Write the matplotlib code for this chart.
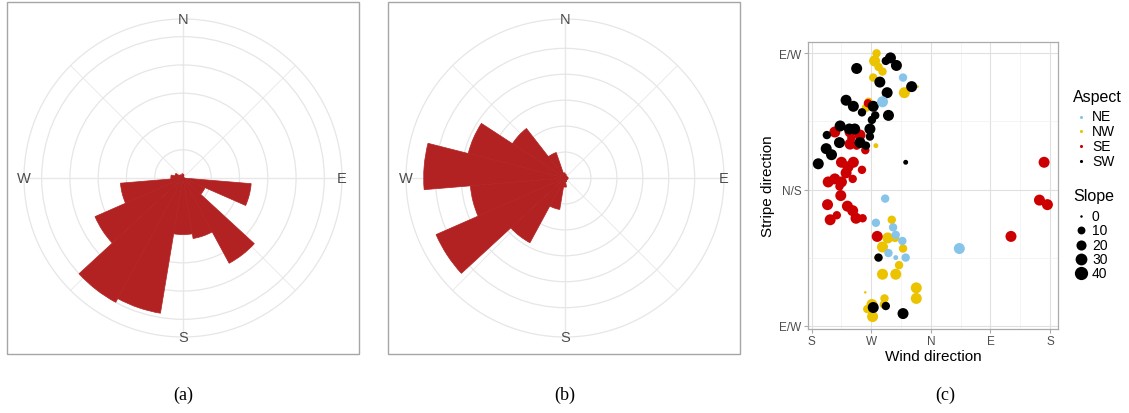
import numpy as np
import matplotlib
matplotlib.use("Agg")
import matplotlib.pyplot as plt
from matplotlib.patches import Rectangle

plt.rcParams['font.family'] = ['Liberation Sans', 'DejaVu Sans']

# wind roses: 19 equal direction bins starting at north, clockwise
n_bins = 19
freq_a = [0.12, 0.05, 0.0, 0.0, 0.05, 2.42, 0.85, 3.43, 2.17, 2.0,
          4.85, 5.0, 3.4, 2.22, 0.43, 0.3, 0.15, 0.1, 0.15]
freq_b = [0.15, 0.1, 0.08, 0.1, 0.12, 0.12, 0.1, 0.1, 0.15, 0.35,
          1.23, 2.84, 5.43, 3.66, 5.45, 3.85, 2.42, 1.04, 0.2]
compass = ['N', 'E', 'S', 'W']

# scatter: wind direction (deg, S=180 .. S=540), stripe direction (deg), slope
nw_wind = [278, 275, 281, 287, 273, 320, 340, 266, 262, 277, 301, 295, 306, 287,
           318, 278, 312, 287, 307, 338, 338, 261, 290, 289, 271, 264, 272]
nw_stripe = [90, 85, 81, 78, 74, 64, 68, 58, 54, 29, -20, -32, -32, -38,
             -39, -45, -50, -56, -56, -65, -72, -68, -72, -76, -76, -79, -84]
nw_slope = [12, 25, 12, 12, 12, 25, 0, 12, 12, 2, 12, 25, 12, 25,
            12, 2, 12, 25, 25, 25, 25, 0, 12, 12, 25, 12, 25]

ne_wind = [318, 287, 291, 277, 303, 307, 317, 296, 307, 322, 403]
ne_stripe = [74, 58, -6, -22, -25, -30, -34, -42, -45, -45, -39]
ne_slope = [12, 25, 12, 12, 12, 12, 12, 12, 2, 12, 25]

se_wind = [265, 215, 238, 253, 240, 238, 248, 261, 225, 243, 235, 256, 232, 215, 205, 225,
           242, 222, 224, 204, 234, 242, 218, 208, 247, 257, 279, 531, 524, 536, 481]
se_stripe = [57, 38, 38, 36, 34, 30, 29, 26, 18, 18, 15, 13, 11, 7, 5, 5,
             7, 2, -4, -10, -11, -14, -17, -20, -19, -19, -31, 18, -7, -10, -31]
se_slope = [12, 25, 25, 25, 12, 25, 12, 12, 25, 25, 25, 12, 25, 25, 25, 25,
            12, 12, 25, 25, 25, 25, 12, 25, 25, 12, 25, 25, 25, 25, 25]

sw_wind = [299, 292, 308, 248, 283, 331, 294, 232, 243, 256, 273, 276, 271, 296, 223, 237,
           245, 268, 203, 268, 222, 253, 262, 202, 210, 190, 322, 281, 273, 292, 318]
sw_stripe = [87, 85, 82, 80, 71, 68, 64, 59, 55, 51, 55, 49, 46, 49, 42, 40,
             40, 40, 36, 35, 31, 31, 29, 27, 23, 17, 18, -45, -78, -77, -82]
sw_slope = [25, 12, 25, 25, 25, 25, 25, 25, 25, 12, 25, 12, 12, 25, 25, 25,
            25, 25, 12, 12, 25, 25, 12, 25, 25, 25, 2, 12, 25, 12, 25]

aspect_labels = ['NE', 'NW', 'SE', 'SW']
aspect_colors = ['#87C4EA', '#EBC300', '#CC0000', '#000000']
slope_breaks = [0, 10, 20, 30, 40]

W, H = 1129, 414
fig = plt.figure(figsize=(W / 100, H / 100), dpi=100)


def size_of(v):
    # diameter in pixels grows with sqrt(slope), converted to points^2
    d_px = 2.5 + 1.7 * np.sqrt(np.asarray(v, dtype=float))
    return (d_px * 72 / 100) ** 2


def rect(x0, y_top, w, h):
    return [x0 / W, (H - y_top - h) / H, w / W, h / H]


def wind_rose(cx, cy, freq):
    r_pix = 159
    ax = fig.add_axes(rect(cx - r_pix, cy - r_pix, 2 * r_pix, 2 * r_pix), projection='polar')
    ax.set_theta_zero_location('N')
    ax.set_theta_direction(-1)
    rmax = max(freq)
    router = rmax * 1.125
    ax.set_ylim(0, router)
    ax.set_yticks([1, 2, 3, 4, 5])
    ax.set_yticklabels([])
    ax.set_xticks([])
    ax.yaxis.grid(True, color='#E6E6E6', lw=0.9)
    ax.xaxis.grid(False)
    ax.spines['polar'].set_color('#E6E6E6')
    ax.spines['polar'].set_linewidth(0.9)
    for a in range(0, 360, 45):
        t = np.deg2rad(a)
        lw = 1.0 if a % 90 == 0 else 0.6
        ax.plot([t, t], [0, router], color='#E8E8E8', lw=lw, zorder=1)
    width = 2 * np.pi / n_bins
    theta = (np.arange(n_bins) + 0.5) * width
    ax.bar(theta, freq, width=width, bottom=0, color='#B22222',
           ec='#B22222', lw=0.5, zorder=3)
    for i, lab in enumerate(compass):
        ax.text(np.deg2rad(90 * i), router, lab, ha='center', va='center',
                fontsize=10.5, color='#4D4D4D', zorder=5)
    return ax


wind_rose(183, 179, freq_a)
wind_rose(565, 179, freq_b)

# scatter panel
ax = fig.add_axes(rect(808, 43, 250, 287))
groups = [(nw_wind, nw_stripe, nw_slope, aspect_colors[1]),
          (se_wind, se_stripe, se_slope, aspect_colors[2]),
          (sw_wind, sw_stripe, sw_slope, aspect_colors[3]),
          (ne_wind, ne_stripe, ne_slope, aspect_colors[0])]
for wx, sy, sl, col in groups:
    ax.scatter(wx, sy, s=size_of(sl), color=col, lw=0, zorder=3)
ax.set_xlim(174.5, 552)
ax.set_ylim(-92.2, 97.5)
ax.set_xticks([180, 270, 360, 450, 540])
ax.set_xticklabels(['S', 'W', 'N', 'E', 'S'])
ax.set_xticks([225, 315, 405, 495], minor=True)
ax.set_yticks([-90, 0, 90])
ax.set_yticklabels(['E/W', 'N/S', 'E/W'])
ax.set_yticks([-45, 45], minor=True)
ax.grid(True, which='major', color='#E0E0E0', lw=0.8, zorder=0)
ax.grid(True, which='minor', color='#F0F0F0', lw=0.5, zorder=0)
ax.set_axisbelow(True)
for sp in ax.spines.values():
    sp.set_color('#ABABAB')
    sp.set_linewidth(0.9)
ax.tick_params(which='major', color='#ABABAB', length=3, width=0.8,
               labelsize=8.5, labelcolor='#4D4D4D', pad=1.5)
ax.tick_params(which='minor', length=0)
ax.set_xlabel('Wind direction', fontsize=11, labelpad=1)
ax.set_ylabel('Stripe direction', fontsize=11, labelpad=3)

# overlay in pixel coordinates: frames, legend, captions
lax = fig.add_axes([0, 0, 1, 1])
lax.set_xlim(0, W)
lax.set_ylim(H, 0)
lax.axis('off')
for x0 in (7, 388):
    lax.add_patch(Rectangle((x0, 3), 352, 352, fill=False, ec='#A6A6A6', lw=1.0))

lax.text(1073, 98, 'Aspect', fontsize=11.5, va='center', ha='left')
for i, (lab, col) in enumerate(zip(aspect_labels, aspect_colors)):
    y = 117.5 + 14.8 * i
    lax.scatter([1081], [y], s=5, color=col, lw=0)
    lax.text(1092, y, lab, fontsize=10, va='center', ha='left')
lax.text(1073, 197, 'Slope', fontsize=11.5, va='center', ha='left')
for i, v in enumerate(slope_breaks):
    y = 217 + 14.3 * i
    lax.scatter([1081], [y], s=size_of(v), color='black', lw=0)
    lax.text(1092, y, str(v), fontsize=10, va='center', ha='left')

for x, lab in zip((183, 565, 945), ('(a)', '(b)', '(c)')):
    lax.text(x, 395, lab, fontsize=13, family='Liberation Serif', ha='center', va='center')

fig.savefig('out.png', dpi=100)
